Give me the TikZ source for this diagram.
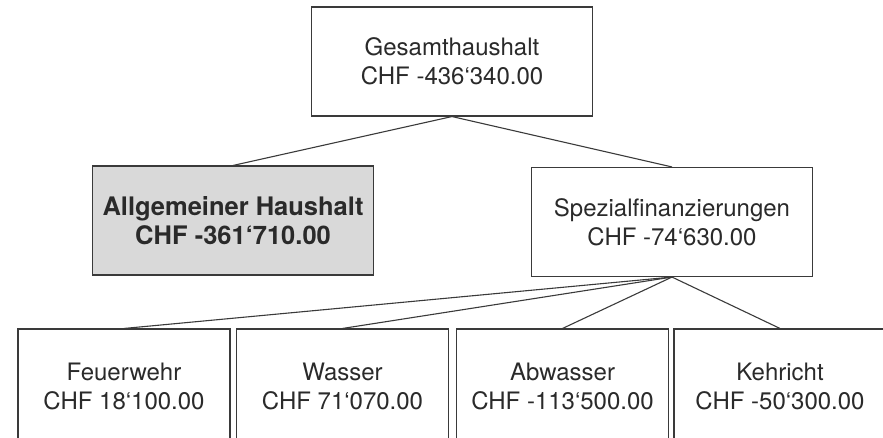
\documentclass[tikz,border=0pt]{standalone}
\usepackage{fontspec}
\setmainfont{TeX Gyre Heros}
\usetikzlibrary{positioning}
\definecolor{linegray}{HTML}{3A3A3A}
\definecolor{boxgray}{HTML}{D9D9D9}
\definecolor{textgray}{HTML}{2A2A2A}
\begin{document}
\begin{tikzpicture}[x=1pt,y=-1pt,
  box/.style={draw=linegray,line width=1.1pt,minimum width=281pt,minimum height=109pt,inner sep=0pt,align=center,text=textgray,font=\fontsize{24}{29}\selectfont},
  leaf/.style={box,minimum width=212pt,minimum height=114pt},
  link/.style={draw=linegray,line width=1.1pt}]
\useasboundingbox (0,0) rectangle (883,437);
\clip (0,0) rectangle (883,437);
% Gesamthaushalt und erste Ebene
\node[box](gesamt) at (452,61.5){Gesamthaushalt\\CHF -436‘340.00};
\node[box,fill=boxgray,font=\fontsize{25.5}{29}\selectfont\bfseries](allgemein) at (233,220.5){Allgemeiner Haushalt\\CHF -361‘710.00};
\node[box](spezial) at (672,222){Spezialfinanzierungen\\CHF -74‘630.00};
% Spezialfinanzierungen
\node[leaf](feuerwehr) at (124,386){Feuerwehr\\CHF 18‘100.00};
\node[leaf](wasser) at (342.5,386){Wasser\\CHF 71‘070.00};
\node[leaf](abwasser) at (562.5,386){Abwasser\\CHF -113‘500.00};
\node[leaf](kehricht) at (780,386){Kehricht\\CHF -50‘300.00};
\draw[link] (gesamt.south) -- (allgemein.north) (gesamt.south) -- (spezial.north);
\foreach \n in {feuerwehr,wasser,abwasser,kehricht}
  \draw[link] (spezial.south) -- (\n.north);
\end{tikzpicture}
\end{document}
